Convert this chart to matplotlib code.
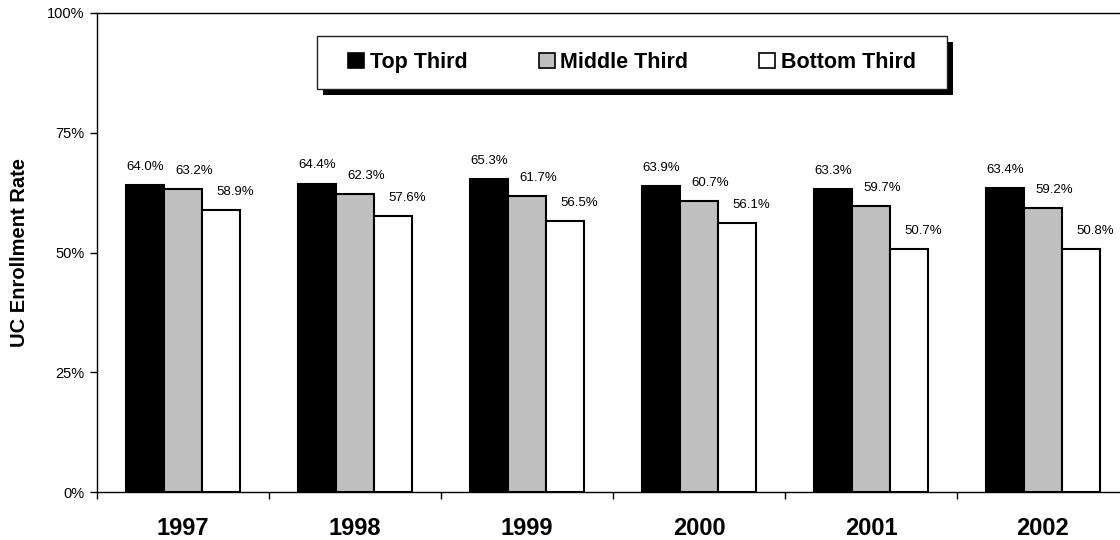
import matplotlib
matplotlib.use("Agg")
import matplotlib.pyplot as plt
import numpy as np
from matplotlib.patches import Patch, Rectangle
from matplotlib.ticker import FixedLocator

plt.rcParams.update({
    'font.family': 'Liberation Sans',
    'axes.linewidth': 1,
    'xtick.direction': 'out',
    'ytick.direction': 'out',
})

years = ['1997', '1998', '1999', '2000', '2001', '2002']
groups = ['Top Third', 'Middle Third', 'Bottom Third']
top_third = [64.0, 64.4, 65.3, 63.9, 63.3, 63.4]
middle_third = [63.2, 62.3, 61.7, 60.7, 59.7, 59.2]
bottom_third = [58.9, 57.6, 56.5, 56.1, 50.7, 50.8]

series = [top_third, middle_third, bottom_third]
colors = ['black', '#c0c0c0', 'white']
label_dx = [0, 8, 10.5]   # points, value labels sit a bit right of the bar centre

W, H = 1120, 540
fig = plt.figure(figsize=(W / 100, H / 100), dpi=100)
ax = fig.add_axes([97 / W, 1 - 492 / H, 1032 / W, 479 / H])

x = np.arange(len(years))
w = 0.221
for i, vals in enumerate(series):
    xs = x + (i - 1) * w
    ax.bar(xs, vals, width=w, color=colors[i], edgecolor='black', linewidth=1.5, zorder=3)
    for xi, v in zip(xs, vals):
        ax.annotate(f"{v:.1f}%", (xi, v), xytext=(label_dx[i], 13), textcoords='offset points',
                    ha='center', va='center', fontsize=9.5)

ax.set_xlim(-0.5, len(years) - 0.5)
ax.set_ylim(0, 100)
ax.set_yticks([0, 25, 50, 75, 100])
ax.set_yticklabels(['0%', '25%', '50%', '75%', '100%'], fontsize=10.5)
ax.set_xticks(x)
ax.set_xticklabels(years, fontsize=17, fontweight='bold')
ax.tick_params(axis='x', which='major', length=0, pad=18)
ax.xaxis.set_minor_locator(FixedLocator(np.arange(-0.5, len(years), 1.0)))
ax.tick_params(axis='x', which='minor', length=5, width=1)
ax.tick_params(axis='y', length=5, width=1, pad=4)
ax.spines['right'].set_visible(False)
ax.set_ylabel('UC Enrollment Rate', fontsize=14.5, fontweight='bold', labelpad=13)

# legend box with a solid drop shadow, drawn in pixel units of the figure
box_l, box_t, box_r, box_b = 317, 36, 947, 89
shadow = 6
fig.add_artist(Rectangle(((box_l + shadow) / W, 1 - (box_b + shadow) / H),
                         (box_r - box_l) / W, (box_b - box_t) / H, transform=fig.transFigure,
                         facecolor='black', edgecolor='none', zorder=1))
fig.add_artist(Rectangle((box_l / W, 1 - box_b / H), (box_r - box_l) / W, (box_b - box_t) / H,
                         transform=fig.transFigure, facecolor='white', edgecolor='#222222',
                         linewidth=1, zorder=2))

handles = [Patch(facecolor=c, edgecolor='black', linewidth=1.2) for c in colors]
leg = fig.legend(handles, groups, loc='center',
                 bbox_to_anchor=((box_l + box_r) / 2 / W, 1 - (box_t + box_b) / 2 / H),
                 ncol=3, frameon=False, handlelength=0.75, handleheight=0.75, handletextpad=0.25,
                 columnspacing=3.3, borderpad=0, borderaxespad=0,
                 prop={'size': 15.5, 'weight': 'bold'})
leg.set_zorder(3)

fig.savefig('out.png', dpi=100)
